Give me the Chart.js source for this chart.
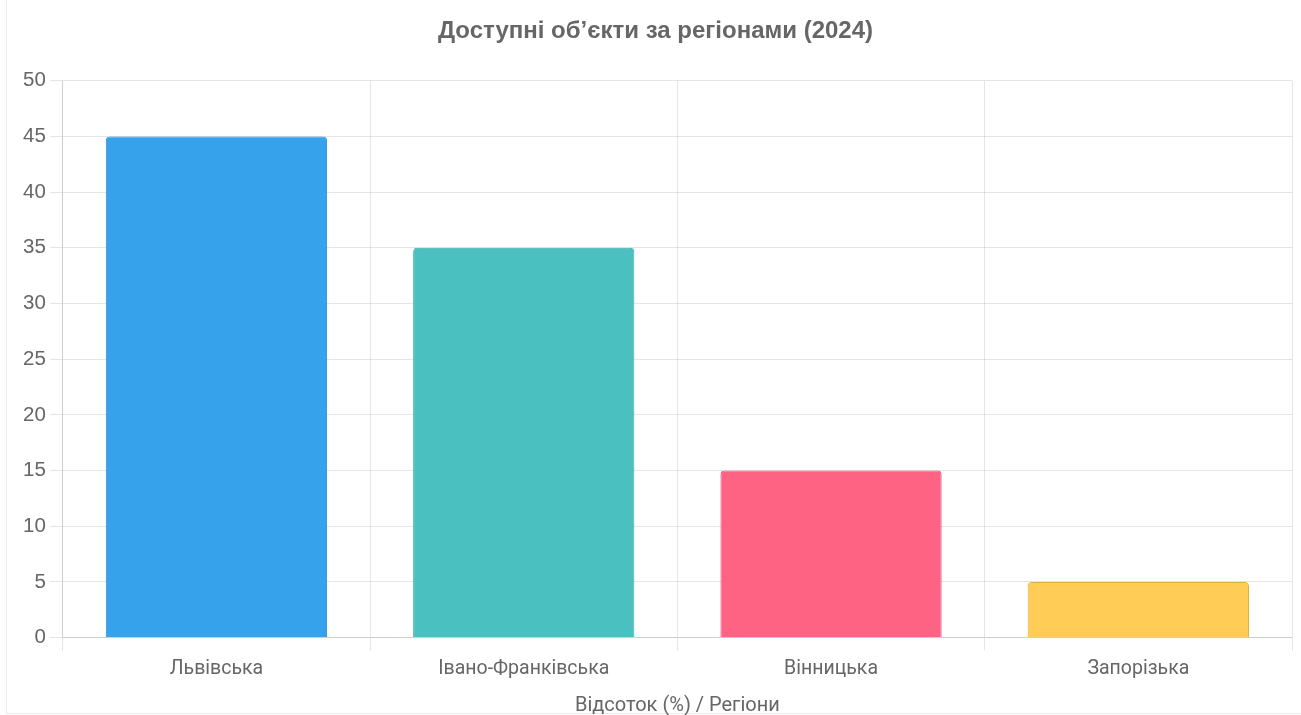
<!DOCTYPE html>
<html lang="uk">
<head>
<meta charset="utf-8">
<title>Доступні об’єкти за регіонами (2024)</title>
<script src="https://cdn.jsdelivr.net/npm/chart.js@4.4.1/dist/chart.umd.min.js"></script>
<style>
  html, body { margin: 0; padding: 0; background: #fff; }
  .wrap { position: absolute; left: 7px; top: 0; width: 1294px; height: 715px; }
  /* тонка рамка контейнера зліва та знизу */
  .frame {
    position: absolute; left: 6px; top: 0; width: 1295px; height: 714px;
    border-left: 1px solid #ececec; border-bottom: 1px solid #ececec;
    box-sizing: border-box; pointer-events: none;
  }
  canvas { display: block; }
</style>
</head>
<body>
<div class="frame"></div>
<div class="wrap"><canvas id="regionsChart"></canvas></div>

<script>
// Дані
const regions = ['Львівська', 'Івано-Франківська', 'Вінницька', 'Запорізька'];
const values  = [45, 35, 15, 5];
const fills   = ['#36A2EB', '#4BC0C0', '#FF6384', '#FFCD56'];
const borders = ['#2E8FD4', '#41AAAA', '#E8557A', '#E0B03E'];

const sans   = "'Liberation Sans', Arial, sans-serif";
const roboto = "Roboto, 'Noto Sans', sans-serif";

Chart.defaults.font.family = sans;
Chart.defaults.color = '#666';

new Chart(document.getElementById('regionsChart'), {
  type: 'bar',
  data: {
    labels: regions,
    datasets: [{
      label: 'Об’єкти',
      data: values,
      backgroundColor: fills,
      borderColor: borders,
      borderWidth: 1,
      borderRadius: 4,
    }]
  },
  options: {
    responsive: true,
    maintainAspectRatio: false,
    animation: false,
    layout: { padding: { left: 12, right: 9, top: 0, bottom: 0 } },
    plugins: {
      legend: { display: false },
      tooltip: { enabled: false },
      title: {
        display: true,
        text: 'Доступні об’єкти за регіонами (2024)',
        color: '#666',
        font: { family: sans, size: 24, weight: 'bold' },
        padding: { top: 17, bottom: 35 }
      }
    },
    scales: {
      x: {
        grid: { color: 'rgba(0,0,0,0.1)', tickLength: 13 },
        ticks: { font: { family: roboto, size: 19.5 }, padding: 7 },
        title: {
          display: true,
          text: 'Відсоток (%) / Регіони',
          font: { family: roboto, size: 20 },
          padding: { top: 6, bottom: -3 }
        }
      },
      y: {
        beginAtZero: true,
        min: 0,
        max: 50,
        grid: { color: 'rgba(0,0,0,0.1)', tickLength: 13 },
        ticks: { stepSize: 5, font: { family: sans, size: 20.5 }, padding: 4 }
      }
    }
  }
});
</script>
</body>
</html>
